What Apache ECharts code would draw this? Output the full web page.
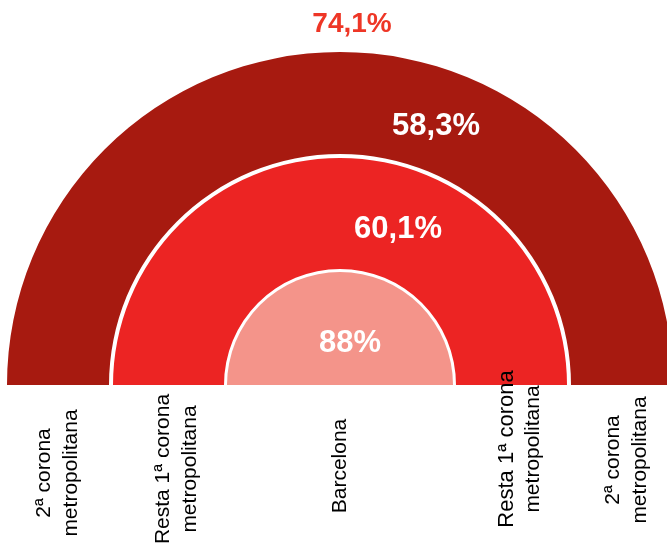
<!DOCTYPE html>
<html>
<head>
<meta charset="utf-8">
<script src="https://cdn.jsdelivr.net/npm/echarts@6/dist/echarts.min.js"></script>
<style>
  html, body { margin: 0; padding: 0; background: #ffffff; }
  #chart { width: 667px; height: 546px; }
</style>
</head>
<body>
<div id="chart"></div>
<script>
// Rings, from the outside in
const ringNames = ['2ª corona metropolitana', 'Resta 1ª corona metropolitana', 'Barcelona'];
const ringValues = [58.3, 60.1, 88];
const outerTopValue = 74.1;

// Category labels along the base, left to right
const baseLabels = [
  '2ª corona\nmetropolitana',
  'Resta 1ª corona\nmetropolitana',
  'Barcelona',
  'Resta 1ª corona\nmetropolitana',
  '2ª corona\nmetropolitana'
];

// Layout
const CX = 340, CY = 385;
const ringRadii = [[231, 333], [116, 227], [0, 113]];
const ringColors = ['#A71A10', '#EC2423', '#F4948A'];
const valueOffsets = [[96, 26], [58, 19], [10, 18]];
const labelX = [58, 177, 340, 520, 627];
const labelY = [473, 469, 466, 449, 460];

const fmt = v => String(v).replace('.', ',') + '%';

const series = ringNames.map((name, i) => ({
  type: 'pie',
  name: name,
  silent: true,
  center: [CX, CY],
  radius: ringRadii[i],
  startAngle: 180,
  endAngle: 0,
  clockwise: true,
  animation: false,
  itemStyle: { color: ringColors[i], borderWidth: 0 },
  label: {
    show: true,
    position: 'inside',
    rotate: 0,
    formatter: p => fmt(p.value),
    color: '#ffffff',
    fontFamily: 'Liberation Sans, Arial, sans-serif',
    fontWeight: 'bold',
    fontSize: 31
  },
  labelLine: { show: false },
  labelLayout: { dx: valueOffsets[i][0], dy: valueOffsets[i][1] },
  emphasis: { disabled: true },
  data: [{ name: name, value: ringValues[i] }]
}));

const graphics = baseLabels.map((txt, i) => {
  const lines = txt.split('\n');
  const bigFirst = i === 3;
  return {
    type: 'text',
    x: labelX[i],
    y: labelY[i],
    z: 100,
    rotation: Math.PI / 2,
    silent: true,
    style: {
      text: bigFirst ? '{b|' + lines[0] + '}\n{n|' + lines[1] + '}' : txt,
      fill: '#000000',
      font: '21px "Liberation Sans", Arial, sans-serif',
      lineHeight: 27,
      align: 'center',
      verticalAlign: 'middle',
      rich: bigFirst ? {
        b: { fontSize: 22, fontFamily: 'Liberation Sans', lineHeight: 27, fill: '#000' },
        n: { fontSize: 21, fontFamily: 'Liberation Sans', lineHeight: 27, fill: '#000' }
      } : undefined
    }
  };
});

const chart = echarts.init(document.getElementById('chart'), null, { renderer: 'canvas' });
chart.setOption({
  backgroundColor: '#ffffff',
  animation: false,
  title: {
    text: fmt(outerTopValue),
    left: 347,
    top: 19,
    textAlign: 'center',
    textVerticalAlign: 'middle',
    textStyle: {
      color: '#EE3626',
      fontFamily: 'Liberation Sans, Arial, sans-serif',
      fontWeight: 'bold',
      fontSize: 28
    }
  },
  series: series,
  graphic: graphics
});
</script>
</body>
</html>
